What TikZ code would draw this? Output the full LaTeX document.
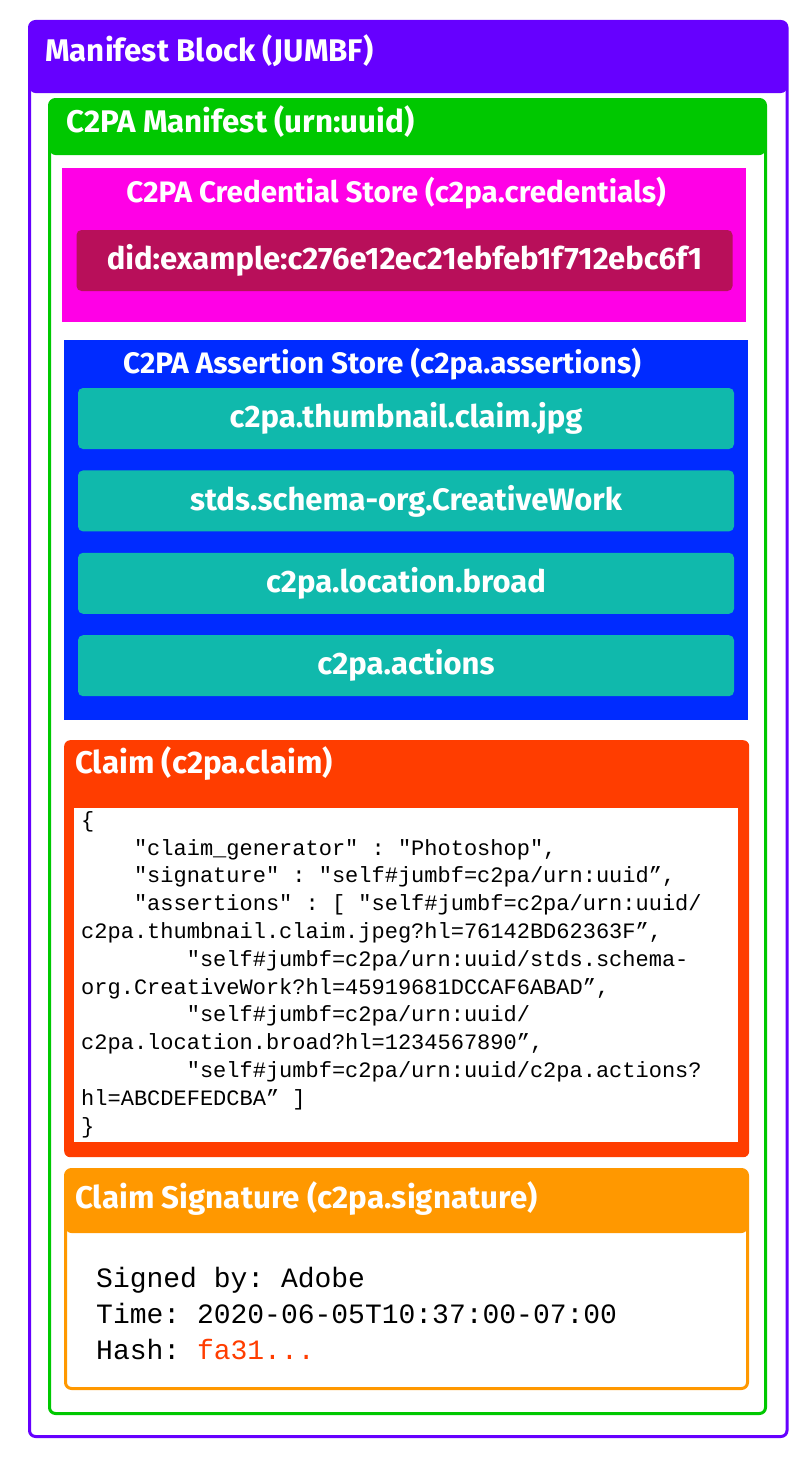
\documentclass[tikz,border=0pt]{standalone}
\usepackage{fontspec}
\setmainfont{Fira Sans}
\setmonofont{Liberation Mono}
\usepackage{tikz}
\usetikzlibrary{positioning}

\definecolor{blockpurple}{HTML}{6600FF}
\definecolor{manigreen}{HTML}{00C800}
\definecolor{credmagenta}{HTML}{FF00E6}
\definecolor{didred}{HTML}{B80F5A}
\definecolor{storeblue}{HTML}{002BFF}
\definecolor{assertteal}{HTML}{10B9AC}
\definecolor{claimred}{HTML}{FF3D00}
\definecolor{sigorange}{HTML}{FF9800}

\begin{document}
\begin{tikzpicture}[x=1pt, y=-1pt,
    frame/.style={draw=#1, line width=3pt, rounded corners=6pt, fill=white,
        anchor=north west, inner sep=0pt, outer sep=0pt},
    header/.style 2 args={path picture={\fill[#1] (path picture bounding box.north west)
        rectangle ([yshift=-#2]path picture bounding box.north east);}},
    store/.style={fill=#1, anchor=north west, inner sep=0pt, minimum width=684pt},
    item/.style={fill=#1, rounded corners=5pt, minimum width=656pt, minimum height=61pt,
        inner sep=0pt, text=white, font=\bfseries\fontsize{31}{34}\selectfont},
    title/.style={text=white, font=\bfseries\fontsize{31.3}{34}\selectfont,
        anchor=base west, inner sep=0pt},
    storetitle/.style={title, anchor=base, font=\bfseries\fontsize{29.6}{33}\selectfont},
    code/.style={align=left, anchor=base west, inner sep=0pt}]
    \useasboundingbox (0,0) rectangle (804,1464);

    % outer boxes
    \node[frame=blockpurple, header={blockpurple}{71.5pt},
        minimum width=757.5pt, minimum height=1415pt] (block) at (29.5,21.5) {};
    \node[title] (blocktitle) at (45,62) {Manifest Block (JUMBF)};
    \node[frame=manigreen, header={manigreen}{55.5pt},
        minimum width=716pt, minimum height=1314pt] (manifest) at (49.5,99.5) {};
    \node[title] (manifesttitle) at (66,132) {C2PA Manifest (urn:uuid)};

    % credential store
    \node[store=credmagenta, minimum height=154pt] (cred) at (62,168) {};
    \node[storetitle] (credtitle) at (396,202) {C2PA Credential Store (c2pa.credentials)};
    \node[item=didred] (did) at (404.5,260.5) {did:example:c276e12ec21ebfeb1f712ebc6f1};

    % assertion store
    \node[store=storeblue, minimum height=380pt] (assert) at (64,340) {};
    \node[storetitle] (asserttitle) at (382,373) {C2PA Assertion Store (c2pa.assertions)};
    \node[item=assertteal] (thumb) at (406,418.5) {c2pa.thumbnail.claim.jpg};
    \node[item=assertteal, below=21pt of thumb] (schema) {stds.schema-org.CreativeWork};
    \node[item=assertteal, below=21pt of schema] (location) {c2pa.location.broad};
    \node[item=assertteal, below=21pt of location] (actions) {c2pa.actions};

    % claim
    \node[fill=claimred, rounded corners=6pt, anchor=north west, inner sep=0pt,
        minimum width=685pt, minimum height=417pt] (claim) at (64,740) {};
    \node[title] (claimtitle) at (75,773) {Claim (c2pa.claim)};
    \node[fill=white, anchor=north west, inner sep=0pt,
        minimum width=664pt, minimum height=334pt] (claimbody) at (74,808) {};
    \node[code, font=\ttfamily\fontsize{22}{27.8}\selectfont] (claimcode) at (81,1133) {%
        \{\\
        \phantom{0000}"claim\_generator" : "Photoshop",\\
        \phantom{0000}"signature" : "self\#jumbf=c2pa/urn:uuid”,\\
        \phantom{0000}"assertions" : [ "self\#jumbf=c2pa/urn:uuid/\\
        c2pa.thumbnail.claim.jpeg?hl=76142BD62363F”,\\
        \phantom{00000000}"self\#jumbf=c2pa/urn:uuid/stds.schema-\\
        org.CreativeWork?hl=45919681DCCAF6ABAD”,\\
        \phantom{00000000}"self\#jumbf=c2pa/urn:uuid/\\
        c2pa.location.broad?hl=1234567890”,\\
        \phantom{00000000}"self\#jumbf=c2pa/urn:uuid/c2pa.actions?\\
        hl=ABCDEFEDCBA” ]\\
        \}};

    % claim signature
    \node[frame=sigorange, header={sigorange}{63.5pt},
        minimum width=682pt, minimum height=219pt] (sig) at (65.5,1169.5) {};
    \node[title] (sigtitle) at (75,1208) {Claim Signature (c2pa.signature)};
    \node[code, font=\ttfamily\fontsize{28}{36}\selectfont] (sigtext) at (96,1359) {%
        Signed by: Adobe\\
        Time: 2020-06-05T10:37:00-07:00\\
        Hash: \textcolor{claimred}{fa31...}};
\end{tikzpicture}
\end{document}
